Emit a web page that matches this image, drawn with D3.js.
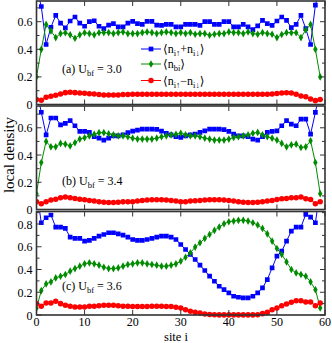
<!DOCTYPE html>
<html>
<head>
<meta charset="utf-8">
<script src="https://cdn.jsdelivr.net/npm/d3@7"></script>
<style>
  body { margin: 0; background: #fff; }
  text { font-family: "Liberation Serif", "DejaVu Serif", serif; fill: #000; }
</style>
</head>
<body>
<script>
  // sites 0..59 along the chain
  var sites = d3.range(60);
  var xTicks = [0, 10, 20, 30, 40, 50, 60];

  // (a) U_bf = 3.0
  var totalA = [0.85, 0.71, 0.435, 0.56, 0.646, 0.59, 0.555, 0.605, 0.634, 0.59,
    0.567, 0.60, 0.607, 0.567, 0.55, 0.575, 0.586, 0.562, 0.562, 0.59,
    0.603, 0.586, 0.58, 0.603, 0.603, 0.575, 0.574, 0.58, 0.58, 0.562,
    0.562, 0.58, 0.58, 0.58, 0.574, 0.60, 0.60, 0.58, 0.58, 0.60,
    0.60, 0.562, 0.562, 0.58, 0.562, 0.543, 0.57, 0.61, 0.586, 0.574,
    0.605, 0.634, 0.61, 0.557, 0.58, 0.646, 0.55, 0.435, 0.72, 0.85];
  var bosonA = [0.2, 0.4, 0.58, 0.533, 0.485, 0.514, 0.52, 0.505, 0.48, 0.505,
    0.52, 0.514, 0.505, 0.52, 0.521, 0.521, 0.514, 0.521, 0.526, 0.514,
    0.514, 0.514, 0.521, 0.526, 0.521, 0.514, 0.521, 0.526, 0.521, 0.514,
    0.521, 0.514, 0.521, 0.509, 0.514, 0.514, 0.502, 0.509, 0.514, 0.514,
    0.526, 0.521, 0.521, 0.514, 0.526, 0.514, 0.509, 0.521, 0.514, 0.509,
    0.485, 0.507, 0.521, 0.52, 0.52, 0.485, 0.54, 0.58, 0.4, 0.2];
  var spinA = [0.037, 0.03, 0.052, 0.06, 0.067, 0.076, 0.086, 0.088, 0.086, 0.083,
    0.081, 0.078, 0.076, 0.072, 0.069, 0.069, 0.069, 0.069, 0.072, 0.072,
    0.074, 0.074, 0.074, 0.074, 0.074, 0.074, 0.074, 0.074, 0.074, 0.074,
    0.074, 0.074, 0.074, 0.074, 0.074, 0.074, 0.074, 0.074, 0.074, 0.074,
    0.074, 0.074, 0.074, 0.074, 0.074, 0.074, 0.074, 0.074, 0.075, 0.076,
    0.08, 0.084, 0.085, 0.084, 0.074, 0.061, 0.056, 0.04, 0.028, 0.037];

  // (b) U_bf = 3.4
  var totalB = [0.88, 0.714, 0.548, 0.672, 0.672, 0.622, 0.632, 0.652, 0.615, 0.573,
    0.573, 0.566, 0.534, 0.524, 0.509, 0.524, 0.54, 0.54, 0.548, 0.565,
    0.575, 0.583, 0.59, 0.59, 0.59, 0.588, 0.575, 0.56, 0.548, 0.534,
    0.529, 0.541, 0.548, 0.553, 0.566, 0.578, 0.59, 0.59, 0.59, 0.586,
    0.573, 0.553, 0.541, 0.541, 0.534, 0.517, 0.51, 0.534, 0.566, 0.573,
    0.578, 0.615, 0.652, 0.627, 0.615, 0.664, 0.664, 0.553, 0.713, 0.88];
  var bosonB = [0.116, 0.345, 0.5, 0.46, 0.46, 0.485, 0.48, 0.467, 0.49, 0.517,
    0.527, 0.54, 0.552, 0.564, 0.564, 0.556, 0.548, 0.541, 0.541, 0.534,
    0.524, 0.517, 0.517, 0.517, 0.517, 0.524, 0.534, 0.541, 0.548, 0.552,
    0.56, 0.548, 0.541, 0.541, 0.534, 0.524, 0.517, 0.51, 0.51, 0.51,
    0.517, 0.529, 0.534, 0.541, 0.548, 0.56, 0.566, 0.548, 0.534, 0.524,
    0.51, 0.485, 0.46, 0.475, 0.48, 0.455, 0.46, 0.505, 0.345, 0.116];
  var spinB = [0.057, 0.042, 0.057, 0.069, 0.076, 0.086, 0.091, 0.086, 0.081, 0.076,
    0.071, 0.066, 0.062, 0.057, 0.054, 0.052, 0.052, 0.054, 0.056, 0.057,
    0.057, 0.062, 0.066, 0.069, 0.071, 0.071, 0.071, 0.069, 0.066, 0.062,
    0.057, 0.057, 0.062, 0.064, 0.066, 0.069, 0.071, 0.071, 0.071, 0.069,
    0.066, 0.062, 0.057, 0.054, 0.052, 0.052, 0.054, 0.057, 0.062, 0.066,
    0.074, 0.079, 0.081, 0.086, 0.086, 0.091, 0.079, 0.074, 0.042, 0.057];

  // (c) U_bf = 3.6
  var totalC = [1.1, 0.811, 0.855, 0.879, 0.773, 0.773, 0.761, 0.685, 0.673, 0.673,
    0.65, 0.656, 0.673, 0.694, 0.708, 0.723, 0.723, 0.714, 0.702, 0.685,
    0.664, 0.656, 0.656, 0.664, 0.673, 0.685, 0.694, 0.694, 0.685, 0.664,
    0.62, 0.576, 0.532, 0.488, 0.438, 0.391, 0.341, 0.297, 0.253, 0.223,
    0.194, 0.165, 0.156, 0.15, 0.15, 0.165, 0.194, 0.238, 0.311, 0.414,
    0.517, 0.561, 0.65, 0.738, 0.773, 0.773, 0.885, 0.861, 0.811, 1.1];
  var bosonC = [0.06, 0.215, 0.273, 0.291, 0.326, 0.341, 0.356, 0.385, 0.408, 0.429,
    0.45, 0.459, 0.45, 0.438, 0.42, 0.408, 0.408, 0.414, 0.429, 0.444,
    0.45, 0.459, 0.459, 0.45, 0.444, 0.438, 0.429, 0.429, 0.438, 0.45,
    0.473, 0.508, 0.547, 0.597, 0.635, 0.673, 0.708, 0.744, 0.773, 0.802,
    0.82, 0.826, 0.832, 0.832, 0.826, 0.811, 0.791, 0.761, 0.714, 0.65,
    0.585, 0.532, 0.467, 0.4, 0.37, 0.356, 0.341, 0.291, 0.223, 0.062];
  var spinC = [0.1, 0.076, 0.106, 0.106, 0.12, 0.1, 0.085, 0.076, 0.071, 0.071,
    0.071, 0.076, 0.076, 0.082, 0.085, 0.085, 0.085, 0.082, 0.076, 0.076,
    0.074, 0.074, 0.074, 0.074, 0.076, 0.076, 0.076, 0.074, 0.074, 0.068,
    0.062, 0.047, 0.032, 0.023, 0.018, 0.009, 0.004, 0.002, 0.001, 0.001,
    0.001, 0.001, 0.001, 0.001, 0.001, 0.001, 0.003, 0.012, 0.023, 0.047,
    0.062, 0.082, 0.097, 0.112, 0.126, 0.126, 0.115, 0.115, 0.082, 0.106];

  var panelLetters = ["(a)", "(b)", "(c)"];
  var ubfValues = ["3.0", "3.4", "3.6"];
  var yMaxes = [0.75, 0.76, 0.91];
  var yTickSets = [[0, 0.2, 0.4, 0.6], [0, 0.2, 0.4, 0.6], [0, 0.2, 0.4, 0.6, 0.8]];

  var width = 332, height = 343;
  var left = 36.5, right = 325;
  var tops = [1, 106, 211.5], panelH = 103.5;
  var labelYs = [73, 185, 290];

  var colors = ["#0000ff", "#008c00", "#ff0000"];
  var symbols = [d3.symbolSquare, d3.symbolDiamond, d3.symbolCircle];
  var symSizes = [22, 17, 24];

  var svg = d3.select("body").append("svg")
    .attr("width", width).attr("height", height);

  var x = d3.scaleLinear().domain([0, 60]).range([left, right]);

  var panelSeries = [[totalA, bosonA, spinA], [totalB, bosonB, spinB], [totalC, bosonC, spinC]];

  panelSeries.forEach(function(series, p) {
    var top = tops[p], bottom = top + panelH;
    var y = d3.scaleLinear().domain([0, yMaxes[p]]).range([bottom, top]);
    var g = svg.append("g");

    svg.append("clipPath").attr("id", "clip" + p)
      .append("rect").attr("x", left).attr("y", top)
      .attr("width", right - left).attr("height", panelH + 3);

    var plot = g.append("g").attr("clip-path", "url(#clip" + p + ")");
    var line = d3.line().x(function(d, i) { return x(sites[i]); }).y(function(d) { return y(d); });

    series.forEach(function(vals, s) {
      plot.append("path").datum(vals)
        .attr("d", line)
        .attr("fill", "none")
        .attr("stroke", colors[s])
        .attr("stroke-width", 1);
      var pts = vals.map(function(v, i) { return { site: sites[i], v: v }; })
        .filter(function(d) { return d.v <= yMaxes[p]; });
      plot.selectAll(".m" + s).data(pts).enter()
        .append("path")
        .attr("transform", function(d) { return "translate(" + x(d.site) + "," + y(d.v) + ")"; })
        .attr("d", d3.symbol().type(symbols[s]).size(symSizes[s]))
        .attr("fill", colors[s]);
    });

    // y ticks: major every 0.2, minor every 0.1, both sides, pointing in
    d3.range(0, yMaxes[p] + 0.001, 0.1).forEach(function(v, k) {
      var len = k % 2 === 0 ? 5 : 3;
      g.append("line").attr("x1", left).attr("x2", left + len)
        .attr("y1", y(v)).attr("y2", y(v)).attr("stroke", "#333");
      g.append("line").attr("x1", right).attr("x2", right - len)
        .attr("y1", y(v)).attr("y2", y(v)).attr("stroke", "#333");
    });
    yTickSets[p].forEach(function(v) {
      g.append("text").attr("x", left - 4).attr("y", y(v) + 4.5)
        .attr("text-anchor", "end").style("font-size", "12px")
        .text(v === 0 ? "0" : d3.format(".1f")(v));
    });

    // x ticks top and bottom
    xTicks.forEach(function(t) {
      g.append("line").attr("x1", x(t)).attr("x2", x(t))
        .attr("y1", bottom).attr("y2", bottom - 5).attr("stroke", "#333");
      g.append("line").attr("x1", x(t)).attr("x2", x(t))
        .attr("y1", top).attr("y2", top + 5).attr("stroke", "#333");
    });

    g.append("rect").attr("x", left).attr("y", top)
      .attr("width", right - left).attr("height", panelH)
      .attr("fill", "none").attr("stroke", "#333").attr("stroke-width", 1.6);

    // panel label
    var lab = g.append("text").attr("x", 62).attr("y", labelYs[p])
      .style("font-size", "12px");
    lab.append("tspan").text(panelLetters[p] + " U");
    lab.append("tspan").attr("dy", 3).style("font-size", "8.5px").text("bf");
    lab.append("tspan").attr("dy", -3).text(" = " + ubfValues[p]);
  });

  // x tick labels under the last panel
  xTicks.forEach(function(t) {
    svg.append("text").attr("x", x(t)).attr("y", 326)
      .attr("text-anchor", "middle").style("font-size", "12px").text(t);
  });
  svg.append("text").attr("x", 176).attr("y", 341)
    .attr("text-anchor", "middle").style("font-size", "12.5px").text("site i");

  svg.append("text")
    .attr("transform", "translate(14,155) rotate(-90)")
    .attr("text-anchor", "middle").style("font-size", "15px")
    .text("local density");

  // legend in panel (a)
  var legendRows = [
    { y: 49, parts: [["\u27E8n", 0], ["i\u2191", 1], ["+n", 0], ["i\u2193", 1], ["\u27E9", 0]] },
    { y: 64, parts: [["\u27E8n", 0], ["bi", 1], ["\u27E9", 0]] },
    { y: 80.5, parts: [["\u27E8n", 0], ["i\u2191", 1], ["\u2212n", 0], ["i\u2193", 1], ["\u27E9", 0]] }
  ];
  legendRows.forEach(function(row, s) {
    svg.append("line").attr("x1", 141).attr("x2", 161)
      .attr("y1", row.y).attr("y2", row.y)
      .attr("stroke", colors[s]).attr("stroke-width", 1);
    svg.append("path")
      .attr("transform", "translate(151," + row.y + ")")
      .attr("d", d3.symbol().type(symbols[s]).size(symSizes[s]))
      .attr("fill", colors[s]);
    var t = svg.append("text").attr("x", 163).attr("y", row.y + 4)
      .style("font-size", "12px");
    var sub = 0;
    row.parts.forEach(function(pt) {
      var dy = pt[1] === sub ? 0 : (pt[1] ? 3 : -3);
      sub = pt[1];
      t.append("tspan").attr("dy", dy)
        .style("font-size", pt[1] ? "8.5px" : "12px").text(pt[0]);
    });
  });
</script>
</body>
</html>
